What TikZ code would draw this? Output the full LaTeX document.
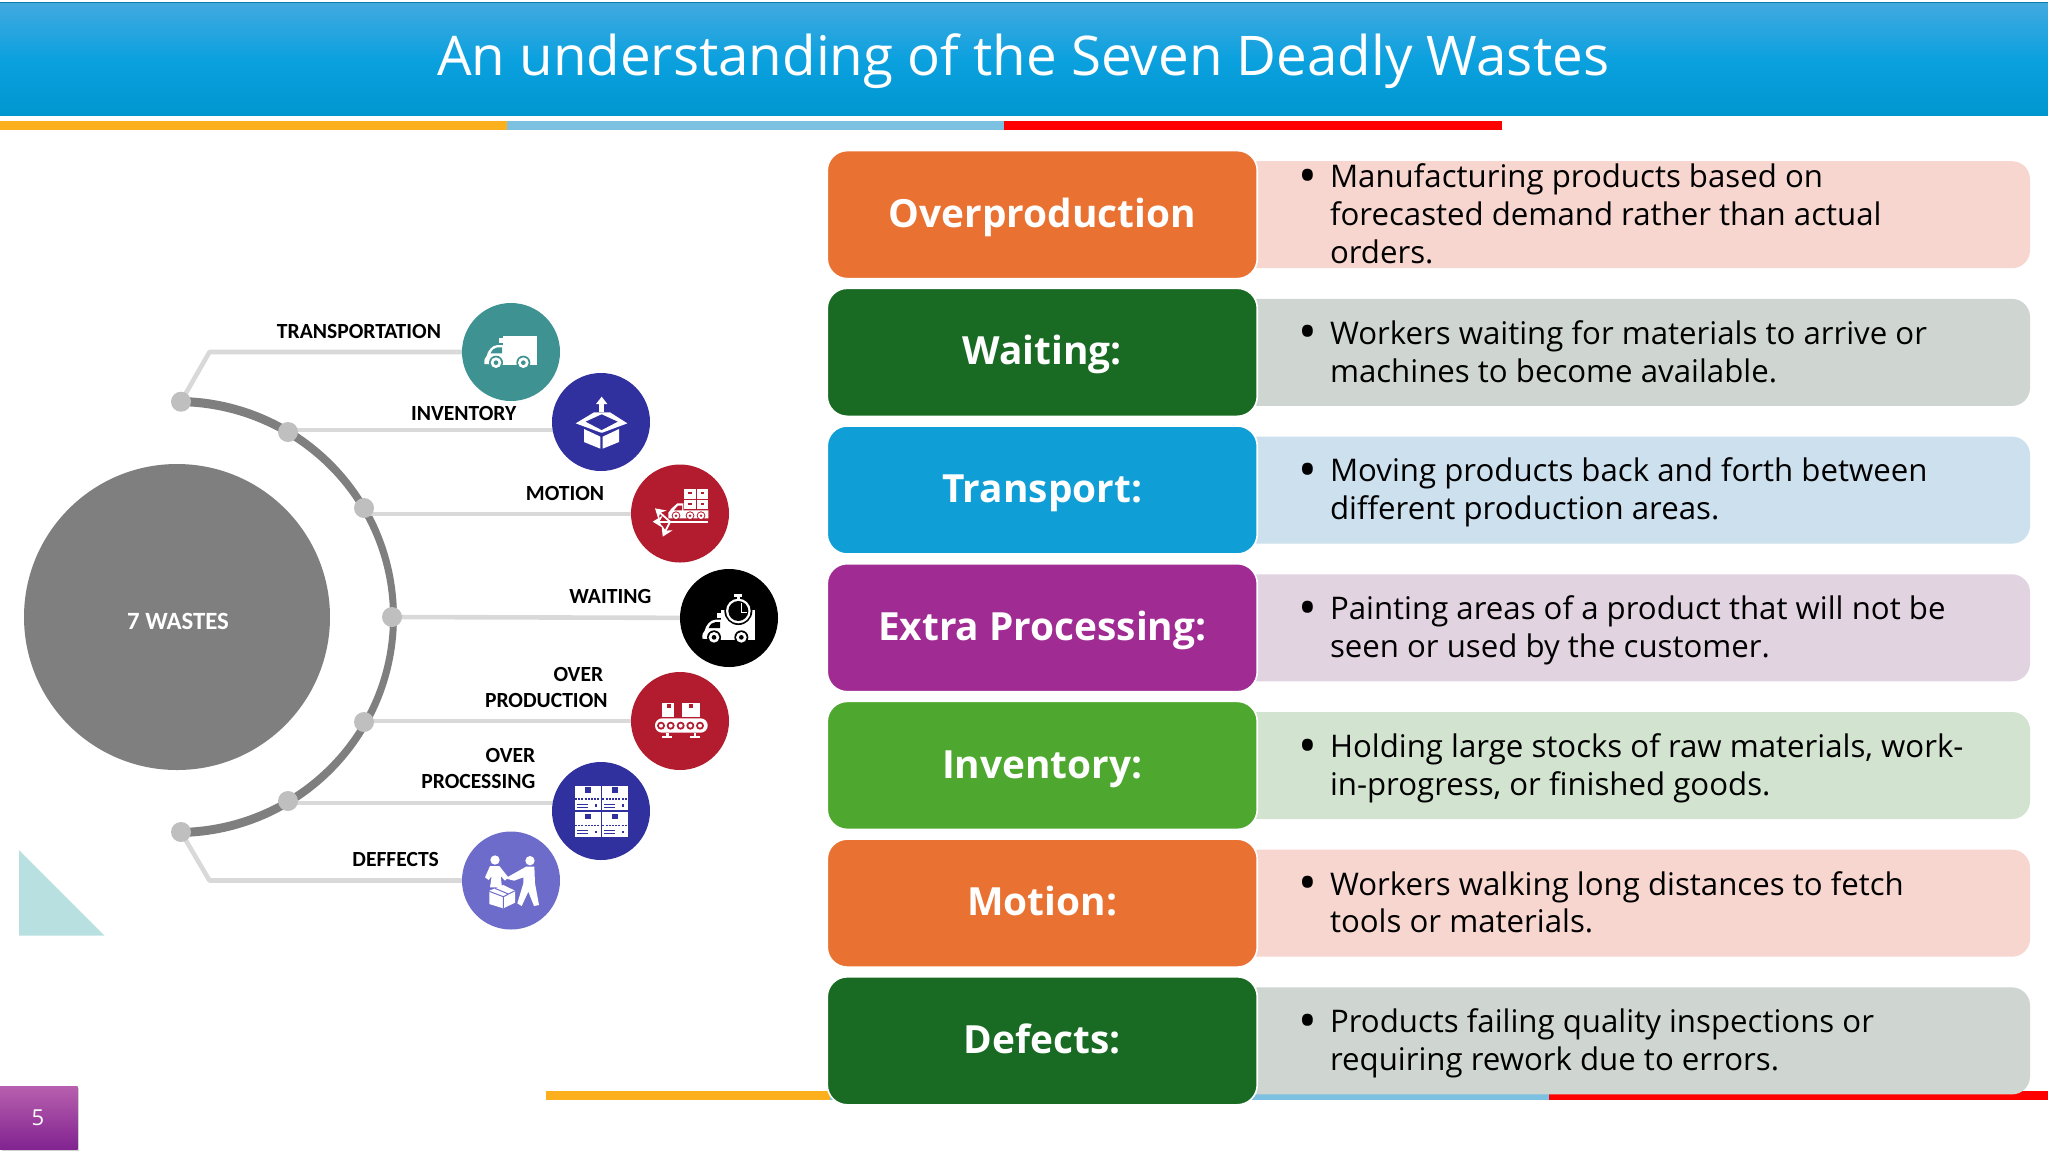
\documentclass[tikz,border=0pt]{standalone}
\usepackage{fontspec}
\usetikzlibrary{arrows.meta}
\setmainfont{Open Sans}
\newfontfamily\labelfont{Carlito}
\newfontfamily\titlefont{Open Sans}
\newfontfamily\bodyfont{Open Sans}
\newfontfamily\headfont{Open Sans}
\definecolor{cOrange}{HTML}{E97132}
\definecolor{cGreen}{HTML}{196B24}
\definecolor{cBlue}{HTML}{0F9ED5}
\definecolor{cPurple}{HTML}{A02B93}
\definecolor{cLime}{HTML}{4EA72E}
\definecolor{lOrange}{HTML}{F7D6CF}
\definecolor{lGreen}{HTML}{CFD6D1}
\definecolor{lBlue}{HTML}{CDE0EE}
\definecolor{lPurple}{HTML}{E2D3E1}
\definecolor{lLime}{HTML}{D2E3D0}
\definecolor{stripeO}{HTML}{FDB01E}
\definecolor{stripeB}{HTML}{7CC1E1}
\definecolor{stripeR}{HTML}{FF0000}
\definecolor{cTeal}{HTML}{3E9292}
\definecolor{cNavy}{HTML}{30309E}
\definecolor{cRed}{HTML}{B31B2E}
\definecolor{cPeri}{HTML}{6E6CCB}
\definecolor{cGrey}{HTML}{7F7F7F}
\definecolor{cDot}{HTML}{BFBFBF}
\definecolor{cLine}{HTML}{D9D9D9}
\definecolor{cTri}{HTML}{B9E0E0}
\definecolor{bandTop}{HTML}{42A9E0}
\definecolor{bandMid}{HTML}{0BA1DF}
\definecolor{bandLow}{HTML}{0096D0}
\pgfdeclarelayer{bg}
\pgfsetlayers{bg,main}
\tikzset{
  headbox/.style={rectangle,rounded corners=10pt,draw=white,line width=0.8pt,minimum width=215pt,minimum height=64pt,inner sep=0pt,text=white,
    font=\headfont\bfseries\fontsize{19.4}{22}\selectfont,text height=14pt,text depth=1.4pt},
  bodytext/.style={anchor=north west,inner sep=0pt,align=left,text=black,font=\bodyfont\fontsize{15.6}{18.9}\selectfont},
  bulletmark/.style={anchor=base,inner sep=0pt,text=black,font=\fontsize{25}{26}\selectfont},
  iconcircle/.style={circle,minimum size=49pt,inner sep=0pt,fill=#1},
  jointdot/.style={circle,minimum size=10pt,inner sep=0pt,fill=cDot},
  connector/.style={draw=cLine,line width=2.3pt,line join=round},
  tag/.style={inner sep=0pt,text=black,align=right,font=\labelfont\bfseries\fontsize{10.8}{13}\selectfont},
}
\newcommand{\wasterow}[7]{% name, top, title, dark, light, baseline offset, body
  \fill[#5,rounded corners=9pt] (1240,#2+10.5) rectangle (2030,#2+117.5);
  \node[headbox,fill=#4] (h#1) at (1042.25,#2+63.9) {#3};
  \node[bulletmark] (k#1) at (1308,#2+10.5+#6+7) {•};
  \node[bodytext] (b#1) at (1329.6,#2+10.5+#6-25.5) {#7};
}
\newcommand{\truckglyph}[3]{%
  \begin{scope}[shift={(#1,#2)}]
    \fill[white] (22,-81) rectangle (124,7);
    \fill[white] (10,-73) rectangle (22,-58);
    \fill[white] (22,7) -- (22,-53) -- (5,-53) .. controls (-12,-53) and (-25,-35) .. (-28,-20) .. controls (-35,-15) and (-35,-8) .. (-35,4) -- cycle;
    \fill[#3] (18,-46) -- (5,-46) .. controls (-5,-46) and (-12,-38) .. (-16,-28) -- (18,-28) -- cycle;
    \foreach \w in {0,82}{
      \fill[#3] (\w,0) circle[radius=21];
      \fill[white] (\w,0) circle[radius=16];
      \fill[#3] (\w,0) circle[radius=7];
    }
  \end{scope}}
\begin{document}
\begin{tikzpicture}[x=0.5pt,y=-0.5pt]
\useasboundingbox (0,0) rectangle (2048,1152);
\begin{pgfonlayer}{bg}
\fill[white] (0,0) rectangle (2048,1152);
\end{pgfonlayer}
% title band
\shade[top color=bandTop,bottom color=bandLow,middle color=bandMid] (0,3) rectangle (2048,115);
\draw[color=cBlue!80!black,line width=0.6pt] (0,2.5) -- (2048,2.5);
\node[inner sep=0pt,text=white,font=\titlefont\fontsize{27.35}{30}\selectfont,anchor=base] (title) at (1023,75) {An understanding of the Seven Deadly Wastes};
\fill[stripeO] (0,120.5) rectangle (506.5,130);
\fill[stripeB] (506.5,120.5) rectangle (1003.5,130);
\fill[stripeR] (1003.5,120.5) rectangle (1502,130);
% bottom stripes
\fill[stripeO] (546,1090.5) rectangle (830,1100);
\fill[stripeB] (830,1090.5) rectangle (1549,1100);
\fill[stripeR] (1549,1090.5) rectangle (2048,1100);
% page number
\fill[black!18] (1.5,1087.5) rectangle (79,1150.5);
\shade[top color=cPurple!75!white,bottom color=cPurple!90!black!90!blue] (0,1086) rectangle (77.5,1149);
\node[inner sep=0pt,text=white,font=\fontsize{11}{13}\selectfont] (pageno) at (38,1118) {5};
% triangle
\fill[cTri] (19,850) -- (104.6,935.7) -- (19,935.7) -- cycle;
% rows
\wasterow{a}{150.7}{Overproduction}{cOrange}{lOrange}{25}{\strut Manufacturing products based on\\\strut forecasted demand rather than actual\\\strut orders.}
\wasterow{b}{288.4}{Waiting:}{cGreen}{lGreen}{44}{\strut Workers waiting for materials to arrive or\\\strut machines to become available.}
\wasterow{c}{426.1}{Transport:}{cBlue}{lBlue}{44}{\strut Moving products back and forth between\\\strut different production areas.}
\wasterow{d}{563.8}{Extra Processing:}{cPurple}{lPurple}{44}{\strut Painting areas of a product that will not be\\\strut seen or used by the customer.}
\wasterow{e}{701.5}{Inventory:}{cLime}{lLime}{44}{\strut Holding large stocks of raw materials, work-\\\strut in-progress, or finished goods.}
\wasterow{f}{839.2}{Motion:}{cOrange}{lOrange}{44}{\strut Workers walking long distances to fetch\\\strut tools or materials.}
\wasterow{g}{976.9}{Defects:}{cGreen}{lGreen}{44}{\strut Products failing quality inspections or\\\strut requiring rework due to errors.}
% hub
\node[circle,fill=cGrey,minimum size=153pt,inner sep=0pt] (hub) at (177,617) {};
\node[inner sep=0pt,text=white,font=\labelfont\bfseries\fontsize{12.4}{14}\selectfont] (hubtext) at (178,621) {7 WASTES};
% joints
\node[jointdot] (d1) at (181,401.7) {};
\node[jointdot] (d2) at (288,432) {};
\node[jointdot] (d3) at (364,508) {};
\node[jointdot] (d4) at (392,617) {};
\node[jointdot] (d5) at (364,722) {};
\node[jointdot] (d6) at (288,801) {};
\node[jointdot] (d7) at (181,832) {};
% icon circles
\node[iconcircle=cTeal] (i1) at (511,352) {};
\node[iconcircle=cNavy] (i2) at (601,422) {};
\node[iconcircle=cRed] (i3) at (680,513.5) {};
\node[iconcircle=black] (i4) at (729,618) {};
\node[iconcircle=cRed] (i5) at (680,721) {};
\node[iconcircle=cNavy] (i6) at (601,811) {};
\node[iconcircle=cPeri] (i7) at (511,880.5) {};
\coordinate (k1) at (209.5,352);
\coordinate (k2) at (288,430);
\coordinate (k3) at (364,514);
\coordinate (k5) at (364,721);
\coordinate (k6) at (288,803);
\coordinate (k7) at (209.5,880.5);
\begin{pgfonlayer}{bg}
\fill[cGrey] (180.8,397) arc[start angle=-89,end angle=89,radius=220] -- (180.7,828) arc[start angle=89,end angle=-89,x radius=213,y radius=211] -- cycle;
\draw[connector] (d1.center) -- (k1) -- (i1.center);
\draw[connector] (k2) -- (k2 -| i2.center);
\draw[connector] (k3) -- (k3 -| i3.center);
\draw[connector] (d4.center) -- (i4.center);
\draw[connector] (k5) -- (k5 -| i5.center);
\draw[connector] (k6) -- (k6 -| i6.center);
\draw[connector] (d7.center) -- (k7) -- (i7.center);
\end{pgfonlayer}
% labels
\node[tag,anchor=base west] (t1) at (276.5,338.5) {TRANSPORTATION};
\node[tag,anchor=base west] (t2) at (410.7,420.5) {INVENTORY};
\node[tag,anchor=base west] (t3) at (525.5,500.5) {MOTION};
\node[tag,anchor=base west] (t4) at (569,603.5) {WAITING};
\node[tag,anchor=east] (t5) at (608,687.5) {OVER\hspace*{2.2pt}\\PRODUCTION};
\node[tag,anchor=east] (t6) at (535.7,768.5) {OVER\\PROCESSING};
\node[tag,anchor=base west] (t7) at (352,866.5) {DEFFECTS};
% icons: upper group
\begin{scope}[shift={(440,290)},x=0.16667pt,y=-0.16667pt]
\truckglyph{168}{218}{cTeal}
% inventory box
\fill[white] (478,338) rectangle (492,365);
\fill[white] (468,342) -- (485,320) -- (502,342) -- cycle;
\fill[white] (407,400) -- (462,367) -- (510,367) -- (562,400) -- (487,428) -- (483,428) -- cycle;
\fill[cNavy] (437,395) -- (485,373) -- (533,395) -- (485,420) -- cycle;
\fill[white] (432,417) -- (481,440) -- (481,476) -- (432,456) -- cycle;
\fill[white] (488,440) -- (537,417) -- (537,456) -- (488,476) -- cycle;
% motion
\fill[white] (733,597) rectangle (767,627);
\fill[white] (770,597) rectangle (805,627);
\fill[white] (733,630) rectangle (767,658);
\fill[white] (770,630) rectangle (805,658);
\foreach \x/\y in {745/605,782/605,745/638,782/638}{\fill[cRed] (\x,\y) rectangle +(10,6);}
\fill[white] (730,640) -- (712,640) -- (695,655) -- (685,668) -- (685,685) -- (805,685) -- (805,661) -- (730,661) -- cycle;
\fill[cRed] (714,647) -- (726,647) -- (726,661) -- (702,661) -- cycle;
\foreach \w in {708,750,783}{
  \fill[cRed] (\w,677) circle[radius=13];
  \fill[white] (\w,677) circle[radius=10];
  \fill[cRed] (\w,677) circle[radius=4];
}
\fill[white] (668,692) rectangle (805,698);
\draw[white,line width=0.9pt,-{Stealth[length=5pt,width=6pt]}] (690,695) -- (645,655);
\draw[white,line width=0.9pt,-{Stealth[length=5pt,width=6pt]}] (690,695) -- (638,695);
\draw[white,line width=0.9pt,-{Stealth[length=5pt,width=6pt]}] (690,695) -- (668,740);
\end{scope}
% icons: lower group
\begin{scope}[shift={(440,550)},x=0.16667pt,y=-0.16667pt]
\truckglyph{822}{262}{black}
\fill[black] (895,183) circle[radius=42];
\fill[white] (895,183) circle[radius=37];
\fill[black] (895,183) circle[radius=30];
\fill[white] (890,135) rectangle (900,150);
\fill[white] (883,133) rectangle (907,140);
\draw[white,line width=0.8pt] (905,160) -- (905,187) -- (922,187);
% over production
\fill[white] (667,460) rectangle (702,500);
\fill[white] (727,460) rectangle (780,500);
\fill[cRed] (680,463) rectangle (692,474);
\fill[cRed] (746,463) rectangle (758,474);
\fill[white,rounded corners=3.5pt] (645,505) rectangle (803,548);
\foreach \w in {663,692,722,751,780}{
  \fill[cRed] (\w,527) circle[radius=12];
  \fill[white] (\w,527) circle[radius=6];
}
\foreach \w in {682,765}{
  \fill[white] (\w-4,548) rectangle (\w+4,560);
  \fill[white] (\w-15,559) rectangle (\w+15,565);
}
% over processing
\foreach \x in {405,487}{\foreach \y in {707,787}{
  \fill[white] (\x,\y) rectangle ++(77,73);
  \fill[cNavy] (\x+30,\y+5) rectangle ++(17,16);
  \draw[cNavy,line width=0.7pt,dash pattern=on 1pt off 0.6pt] (\x,\y+40) -- ++(77,0);
  \draw[cNavy,line width=0.4pt] (\x+6,\y+55) -- ++(32,0);
  \draw[cNavy,line width=0.4pt] (\x+6,\y+64) -- ++(32,0);
  \fill[cNavy] (\x+60,\y+55) rectangle ++(6,8);
}}
% defects
\fill[white] (165,930) circle[radius=14];
\fill[white] (270,932) circle[radius=14];
\fill[white] (150,948) -- (178,948) -- (205,982) -- (195,992) -- (182,978) -- (186,1012) -- (150,1012) -- (155,978) -- (146,990) -- (135,982) -- cycle;
\fill[white] (258,950) -- (283,950) -- (285,1000) -- (297,1065) -- (282,1068) -- (265,1025) -- (245,1068) -- (232,1060) -- (250,1000) -- (250,982) -- (222,992) -- (196,985) -- cycle;
\fill[white] (148,1022) -- (190,1005) -- (225,1022) -- (225,1058) -- (190,1075) -- (148,1062) -- cycle;
\draw[cPeri,line width=0.5pt] (148,1024) -- (190,1040) -- (225,1022) (190,1040) -- (190,1075) (165,1015) -- (205,1032);
\end{scope}
\end{tikzpicture}
\end{document}
